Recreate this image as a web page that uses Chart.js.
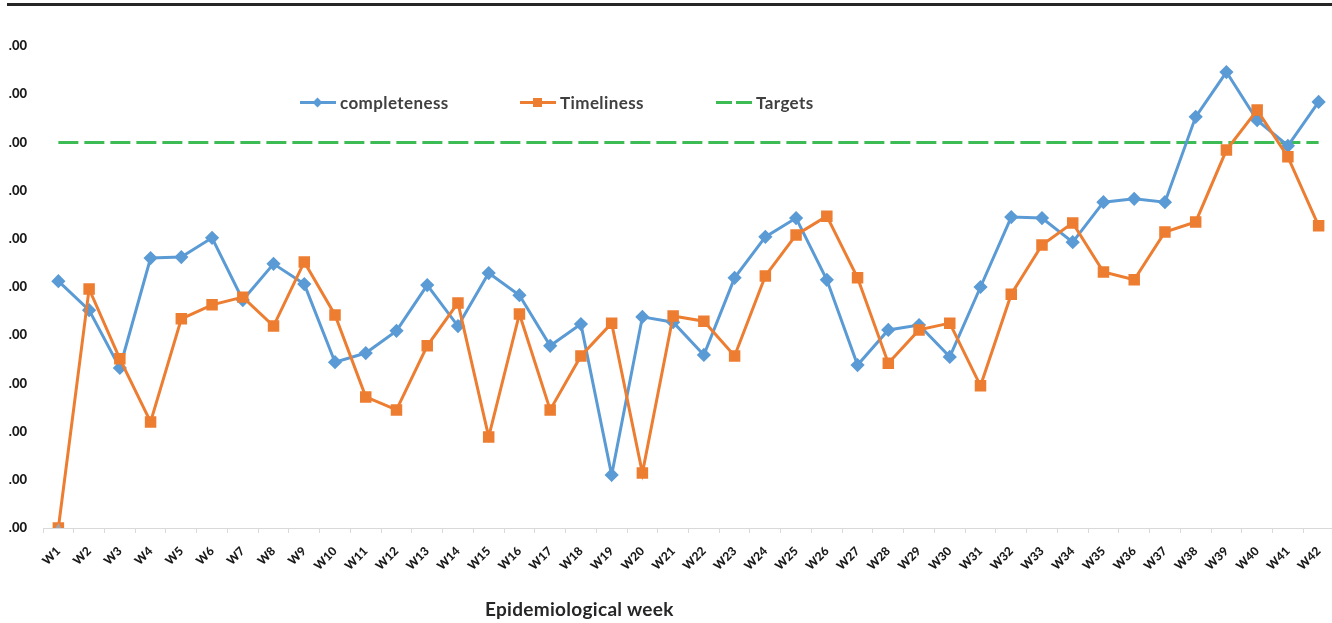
<!DOCTYPE html>
<html>
<head>
<meta charset="utf-8">
<script src="https://cdn.jsdelivr.net/npm/chart.js@4.4.1/dist/chart.umd.min.js"></script>
<style>
  html, body { margin: 0; padding: 0; background: #fff; overflow: hidden; width: 1332px; height: 623px; }
  #wrap { position: relative; width: 1343px; height: 623px; }
  #topline { position: absolute; left: 7px; top: 3px; width: 1330px; height: 3px; background: #262626; }
  #legend { position: absolute; top: 91px; left: 0; height: 22px; font-family: Lato, "Liberation Sans", sans-serif; font-weight: bold; font-size: 17px; letter-spacing: 0.4px; color: #404040; }
  .li { position: absolute; top: 0; white-space: nowrap; display: flex; align-items: center; height: 22px; }
  .li svg { margin-right: 2px; }
  #xtitle { position: absolute; top: 597px; left: 485px; font-family: Lato, "Liberation Sans", sans-serif; font-weight: bold; font-size: 19px; letter-spacing: 0.3px; color: #262626; white-space: nowrap; }
</style>
</head>
<body>
<div id="wrap">
  <canvas id="c" width="1343" height="623" style="width:1343px;height:623px;"></canvas>
  <div id="topline"></div>
  <div id="legend"></div>
  <div id="xtitle">Epidemiological week</div>
</div>
<script>
const weeks = ["W1","W2","W3","W4","W5","W6","W7","W8","W9","W10","W11","W12","W13","W14","W15","W16","W17","W18","W19","W20","W21","W22","W23","W24","W25","W26","W27","W28","W29","W30","W31","W32","W33","W34","W35","W36","W37","W38","W39","W40","W41","W42"];
const completeness = [51.2,45.2,33.2,56.0,56.2,60.2,47.3,54.8,50.6,34.4,36.3,40.9,50.4,41.9,52.9,48.3,37.8,42.3,11.0,43.8,42.7,35.9,51.9,60.4,64.3,51.5,33.8,41.1,42.1,35.5,50.0,64.5,64.3,59.3,67.6,68.3,67.6,85.3,94.6,84.6,79.3,88.4];
const timeliness = [0,49.6,35.1,22.0,43.4,46.3,47.9,41.9,55.2,44.2,27.2,24.5,37.8,46.7,18.9,44.4,24.5,35.7,42.5,11.4,44.0,42.9,35.7,52.3,60.8,64.7,51.9,34.2,41.1,42.5,29.5,48.5,58.7,63.3,53.1,51.5,61.4,63.5,78.4,86.7,77.0,62.7];
const targets = [80,80,80,80,80,80,80,80,80,80,80,80,80,80,80,80,80,80,80,80,80,80,80,80,80,80,80,80,80,80,80,80,80,80,80,80,80,80,80,80,80,80];
const extraMarker = [0,null,null,null,null,null,null,null,null,null,null,null,null,null,null,null,null,null,null,null,null,null,null,null,null,null,null,null,null,null,null,null,null,null,null,null,null,null,null,null,null,null];
const yTickLabels = [".00",".00",".00",".00",".00",".00",".00",".00",".00",".00",".00"];
const seriesNames = ["completeness","Timeliness","Targets"];

const BLUE = "#5B9BD5", ORANGE = "#ED7D31", GREEN = "#3DBB55", GRAY = "#A5A5A5";

const chart = new Chart(document.getElementById("c"), {
  type: "line",
  data: {
    labels: weeks,
    datasets: [
      { label: seriesNames[0], data: completeness, borderColor: BLUE, backgroundColor: BLUE, borderWidth: 3,
        pointStyle: "rectRot", pointRadius: 5, pointHoverRadius: 5, tension: 0, order: 2 },
      { label: seriesNames[1], data: timeliness, borderColor: ORANGE, backgroundColor: ORANGE, borderWidth: 3,
        pointStyle: "rect", pointRadius: 6, pointHoverRadius: 6, tension: 0, order: 1 },
      { label: seriesNames[2], data: targets, borderColor: GREEN, backgroundColor: GREEN, borderWidth: 3,
        borderDash: [20, 6], pointRadius: 0, tension: 0, order: 3 },
      { label: "", data: extraMarker, borderColor: GRAY, backgroundColor: GRAY, borderWidth: 0, showLine: false,
        pointStyle: "triangle", pointRadius: 5, pointHoverRadius: 5, order: 0 }
    ]
  },
  options: {
    responsive: false,
    animation: false,
    layout: { padding: { left: 6, top: 46, right: 4, bottom: 0 } },
    plugins: { legend: { display: false }, tooltip: { enabled: false } },
    scales: {
      x: {
        type: "category",
        offset: true,
        grid: { display: true, drawOnChartArea: false, drawTicks: true, tickLength: 5, offset: true, color: "#d9d9d9" },
        border: { display: true, color: "#d9d9d9", width: 1 },
        ticks: { autoSkip: false, maxRotation: 45, minRotation: 45, padding: 11,
                 font: { family: "Lato, 'Liberation Sans', sans-serif", weight: "900", size: 12 }, color: "#1a1a1a" },
        afterFit: (axis) => { axis.height = 95; }
      },
      y: {
        min: 0, max: 100,
        ticks: { stepSize: 10, padding: 8,
                 callback: (v, i) => yTickLabels[i],
                 font: { family: "Lato, 'Liberation Sans', sans-serif", weight: "900", size: 13 }, color: "#1a1a1a" },
        grid: { display: false },
        border: { display: false },
        afterFit: (axis) => { axis.width = 37; }
      }
    }
  }
});

// HTML legend built from the named datasets
const legendPos = [300, 520, 716];
const legend = document.getElementById("legend");
chart.data.datasets.slice(0, seriesNames.length).forEach((ds, i) => {
  const item = document.createElement("div");
  item.className = "li";
  item.style.left = legendPos[i] + "px";
  let marker = "";
  if (i === 0) marker = '<rect x="14" y="5" width="7" height="7" transform="rotate(45 17.5 8.5)" fill="' + ds.borderColor + '"/>';
  if (i === 1) marker = '<rect x="13" y="4" width="9" height="9" fill="' + ds.borderColor + '"/>';
  const line = i === 2
    ? '<line x1="0" y1="8.5" x2="36" y2="8.5" stroke="' + ds.borderColor + '" stroke-width="3" stroke-dasharray="16,4"/>'
    : '<line x1="0" y1="8.5" x2="36" y2="8.5" stroke="' + ds.borderColor + '" stroke-width="3"/>';
  item.innerHTML = '<svg width="38" height="17">' + line + marker + '</svg><span>' + ds.label + '</span>';
  legend.appendChild(item);
});
</script>
</body>
</html>
